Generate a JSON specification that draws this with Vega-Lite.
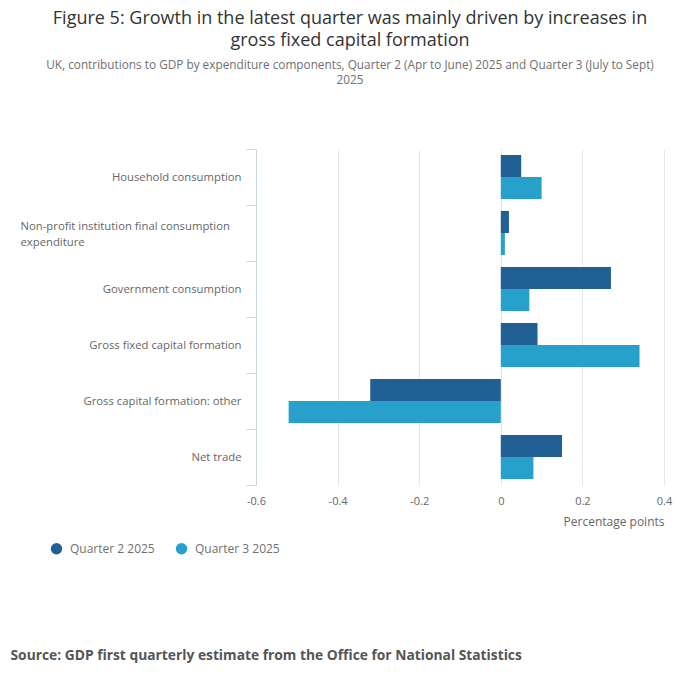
{
  "$schema": "https://vega.github.io/schema/vega-lite/v6.json",
  "width": 408,
  "height": 336,
  "autosize": {"type": "none"},
  "padding": {"left": 256, "top": 149, "right": 36, "bottom": 197},
  "title": {
    "text": ["Figure 5: Growth in the latest quarter was mainly driven by increases in", "gross fixed capital formation"],
    "subtitle": ["UK, contributions to GDP by expenditure components, Quarter 2 (Apr to June) 2025 and Quarter 3 (July to Sept)", "2025"],
    "anchor": "middle",
    "dx": -110,
    "offset": 56
  },
  "data": {
    "values": [
      {"component": "Household consumption", "quarter": "Quarter 2 2025", "value": 0.05},
      {"component": "Household consumption", "quarter": "Quarter 3 2025", "value": 0.10},
      {"component": "Non-profit institution final consumption expenditure", "quarter": "Quarter 2 2025", "value": 0.02},
      {"component": "Non-profit institution final consumption expenditure", "quarter": "Quarter 3 2025", "value": 0.01},
      {"component": "Government consumption", "quarter": "Quarter 2 2025", "value": 0.27},
      {"component": "Government consumption", "quarter": "Quarter 3 2025", "value": 0.07},
      {"component": "Gross fixed capital formation", "quarter": "Quarter 2 2025", "value": 0.09},
      {"component": "Gross fixed capital formation", "quarter": "Quarter 3 2025", "value": 0.34},
      {"component": "Gross capital formation: other", "quarter": "Quarter 2 2025", "value": -0.32},
      {"component": "Gross capital formation: other", "quarter": "Quarter 3 2025", "value": -0.52},
      {"component": "Net trade", "quarter": "Quarter 2 2025", "value": 0.15},
      {"component": "Net trade", "quarter": "Quarter 3 2025", "value": 0.08}
    ]
  },
  "mark": {"type": "bar"},
  "encoding": {
    "y": {
      "field": "component",
      "type": "nominal",
      "sort": ["Household consumption", "Non-profit institution final consumption expenditure", "Government consumption", "Gross fixed capital formation", "Gross capital formation: other", "Net trade"],
      "scale": {"paddingInner": 0, "paddingOuter": 0},
      "axis": {
        "title": "Source: GDP first quarterly estimate from the Office for National Statistics",
        "titleAngle": 0,
        "titleAlign": "left",
        "titleBaseline": "alphabetic",
        "titleX": -246,
        "titleY": 510,
        "titleFontSize": 13.8,
        "titleFontWeight": "bold",
        "titleColor": "#555555",
        "domainColor": "#ccd6eb",
        "tickColor": "#ccd6eb",
        "tickSize": 10,
        "tickBand": "extent",
        "labelFontSize": 11.3,
        "labelColor": "#666666",
        "labelLineHeight": 16,
        "labelLimit": 300,
        "labelExpr": "datum.value == 'Non-profit institution final consumption expenditure' ? ['Non-profit institution final consumption', 'expenditure'] : datum.value",
        "labelAlign": {
          "condition": {"test": "datum.value == 'Non-profit institution final consumption expenditure'", "value": "left"},
          "value": "right"
        },
        "labelPadding": {
          "condition": {"test": "datum.value == 'Non-profit institution final consumption expenditure'", "value": 226},
          "value": 5
        },
        "labelOffset": {
          "condition": {"test": "datum.value == 'Non-profit institution final consumption expenditure'", "value": -7},
          "value": 0
        }
      }
    },
    "yOffset": {
      "field": "quarter",
      "type": "nominal",
      "sort": ["Quarter 2 2025", "Quarter 3 2025"],
      "scale": {"paddingInner": 0, "paddingOuter": 0.27}
    },
    "x": {
      "field": "value",
      "type": "quantitative",
      "scale": {"domain": [-0.6, 0.4], "nice": false, "zero": false},
      "axis": {
        "title": "Percentage points",
        "titleAnchor": "end",
        "titleFontWeight": "normal",
        "titleFontSize": 12,
        "titleColor": "#666666",
        "titlePadding": 10,
        "values": [-0.6, -0.4, -0.2, 0, 0.2, 0.4],
        "labelExpr": "toString(datum.value)",
        "labelFlush": false,
        "labelPadding": 10,
        "labelFontSize": 11,
        "labelColor": "#666666",
        "domain": false,
        "ticks": false,
        "grid": true,
        "gridColor": "#e6e6e6"
      }
    },
    "color": {
      "field": "quarter",
      "type": "nominal",
      "scale": {"domain": ["Quarter 2 2025", "Quarter 3 2025"], "range": ["#206095", "#27a0cc"]},
      "legend": {
        "title": null,
        "orient": "none",
        "direction": "horizontal",
        "legendX": -206,
        "legendY": 393,
        "symbolType": "circle",
        "symbolSize": 130,
        "symbolOpacity": 1,
        "labelFontSize": 12,
        "labelColor": "#707070",
        "labelOffset": 7,
        "columnPadding": 20
      }
    }
  },
  "config": {
    "font": "Open Sans",
    "view": {"stroke": null},
    "title": {
      "fontSize": 18,
      "fontWeight": "normal",
      "color": "#333333",
      "lineHeight": 22,
      "subtitleFontSize": 11.8,
      "subtitleColor": "#707070",
      "subtitleLineHeight": 15,
      "subtitlePadding": 10
    }
  }
}
